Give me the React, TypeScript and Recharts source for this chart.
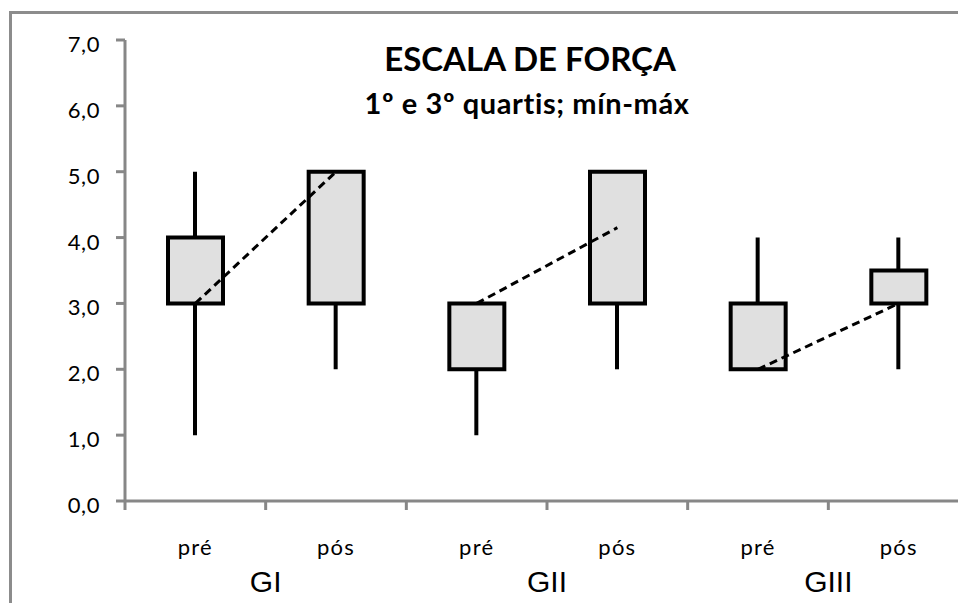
import React from 'react';
import { ComposedChart, Bar, Line, XAxis, YAxis } from 'recharts';

const categories = ['pré', 'pós', 'pré', 'pós', 'pré', 'pós'];
const groups = ['GI', 'GII', 'GIII'];
const minValues = [1, 2, 1, 2, 2, 2];
const q1Values = [3, 3, 2, 3, 2, 3];
const q3Values = [4, 5, 3, 5, 3, 3.5];
const maxValues = [5, 5, 3, 5, 4, 4];
const medianValues = [3, 5, 3, 4.15, 2, 3];
const yTicks = [0, 1, 2, 3, 4, 5, 6, 7];
const title = 'ESCALA DE FORÇA';
const subtitle = '1º e 3º quartis; mín-máx';

const rows = categories.map((cat, i) => {
  const row: any = {
    id: groups[Math.floor(i / 2)] + '-' + cat,
    whisker: [minValues[i], maxValues[i]],
    box: [q1Values[i], q3Values[i]],
  };
  groups.forEach((g, gi) => {
    row['med' + g] = Math.floor(i / 2) === gi ? medianValues[i] : null;
  });
  return row;
});

const CHART_W = 1000;
const MARGIN = { top: 40, right: 31, left: 0, bottom: 117 };
const Y_W = 125;
const PLOT_W = CHART_W - MARGIN.left - MARGIN.right - Y_W;

const AXIS = '#878787';
const FONT = 'Lato, "Open Sans", sans-serif';

const fmt = (v: number) => v.toFixed(1).replace('.', ',');

const YTick = (p: any) => (
  <text x={p.x} y={p.y + 12} textAnchor="end" fontFamily={FONT} fontSize={22} letterSpacing={0.6} fill="#000">
    {fmt(p.payload.value)}
  </text>
);

const CatTick = (p: any) => (
  <text x={p.x} y={p.y + 53} textAnchor="middle" fontFamily={FONT} fontSize={22} letterSpacing={1.2} fill="#000">
    {categories[p.payload.index]}
  </text>
);

const GroupTick = (p: any) => {
  const idx = p.payload.index;
  const half = PLOT_W / categories.length / 2;
  const left = p.x - half;
  const right = p.x + half;
  const y0 = p.y;
  return (
    <g>
      <line x1={left} x2={left} y1={y0} y2={y0 + 9} stroke={AXIS} strokeWidth={3} />
      {idx === categories.length - 1 && (
        <line x1={right} x2={right} y1={y0} y2={y0 + 9} stroke={AXIS} strokeWidth={3} />
      )}
      {idx % 2 === 0 && (
        <text x={right} y={y0 + 91} textAnchor="middle" fontFamily='"Liberation Sans", Arial, sans-serif' fontSize={30} fill="#000">
          {groups[idx / 2]}
        </text>
      )}
    </g>
  );
};

export default function App() {
  return (
    <div style={{ position: 'absolute', left: 0, top: 0, width: 958, height: 603, overflow: 'hidden', background: '#fff' }}>
      <div style={{ position: 'absolute', left: 9, top: 11, width: 1100, height: 800, border: '3px solid #8c8c8c', boxSizing: 'border-box' }} />
      <div style={{ position: 'absolute', left: 0, top: 0 }}>
        <ComposedChart width={CHART_W} height={620} data={rows} margin={MARGIN}>
          <YAxis
            domain={[0, 7]}
            ticks={yTicks}
            type="number"
            width={Y_W}
            tickSize={9}
            tickMargin={16}
            axisLine={{ stroke: AXIS, strokeWidth: 3 }}
            tickLine={{ stroke: AXIS, strokeWidth: 3 }}
            tick={(p: any) => <YTick {...p} />}
            interval={0}
            allowDataOverflow
          />
          <XAxis xAxisId="w" dataKey="id" type="category" hide />
          <XAxis
            xAxisId="grid"
            dataKey="id"
            type="category"
            height={1}
            tickSize={0}
            tickMargin={0}
            interval={0}
            axisLine={{ stroke: AXIS, strokeWidth: 3 }}
            tickLine={false}
            tick={(p: any) => <GroupTick {...p} />}
          />
          <XAxis
            xAxisId="main"
            dataKey="id"
            type="category"
            height={1}
            axisLine={false}
            tickLine={false}
            tickSize={0}
            tickMargin={0}
            interval={0}
            tick={(p: any) => <CatTick {...p} />}
          />
          <Bar xAxisId="w" dataKey="whisker" barSize={4} fill="#000" isAnimationActive={false} />
          <Bar xAxisId="main" dataKey="box" barSize={55} fill="#e0e0e0" stroke="#000" strokeWidth={4} isAnimationActive={false} />
          {groups.map((g) => (
            <Line
              key={g}
              xAxisId="main"
              dataKey={'med' + g}
              stroke="#000"
              strokeWidth={3}
              strokeDasharray="8 5"
              dot={false}
              activeDot={false}
              connectNulls={false}
              isAnimationActive={false}
            />
          ))}
        </ComposedChart>
      </div>
      <svg width={958} height={603} style={{ position: 'absolute', left: 0, top: 0, pointerEvents: 'none' }}>
        <text x={530} y={71} textAnchor="middle" fontFamily={FONT} fontWeight="bold" fontSize={33} fill="#000">{title}</text>
        <text x={527} y={114} textAnchor="middle" fontFamily={FONT} fontWeight="bold" fontSize={29} letterSpacing={0.6} fill="#000">{subtitle}</text>
      </svg>
    </div>
  );
}
